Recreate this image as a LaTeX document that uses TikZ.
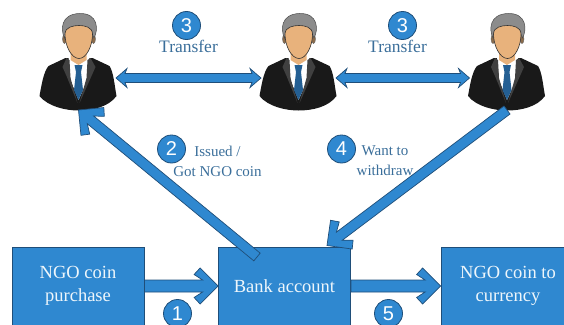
\documentclass[tikz,border=0pt]{standalone}
\usepackage{fontspec}
\setmainfont{Liberation Serif}
\setsansfont{Liberation Sans}
\usetikzlibrary{calc}
\definecolor{ngoblue}{HTML}{2F88D0}
\definecolor{ngoline}{HTML}{1F4E79}
\definecolor{ngotext}{HTML}{3A6E9A}
\definecolor{skin}{HTML}{E8B27C}
\newcommand{\sidept}[4]{($(#1)!#3pt!(#2)!#4pt!90:(#2)$)}
\tikzset{
  ngobox/.style={draw=ngoline,line width=0.8pt,fill=ngoblue,text=white!92!ngoblue,minimum width=132pt,minimum height=78pt,inner sep=0pt,align=center,font=\fontsize{18.5}{23}\selectfont},
  stepnum/.style={circle,draw=ngoline,line width=0.8pt,fill=ngoblue,text=white,minimum size=28pt,inner sep=0pt,font=\sffamily\fontsize{20}{20}\selectfont},
  steptext/.style={text=ngotext,align=center,inner sep=0pt,font=\fontsize{15}{20}\selectfont},
  fatblue/.style={draw=ngoline,line width=0.7pt,fill=ngoblue,line join=miter},
  openarrow/.style={fatblue,to path={
    \sidept{\tikztostart}{\tikztotarget}{0}{#1}
    -- \sidept{\tikztotarget}{\tikztostart}{15.5}{-#1}
    -- \sidept{\tikztotarget}{\tikztostart}{24}{-11.5}
    -- \sidept{\tikztotarget}{\tikztostart}{18}{-18}
    -- (\tikztotarget)
    -- \sidept{\tikztotarget}{\tikztostart}{18}{18}
    -- \sidept{\tikztotarget}{\tikztostart}{24}{11.5}
    -- \sidept{\tikztotarget}{\tikztostart}{15.5}{#1}
    -- \sidept{\tikztostart}{\tikztotarget}{0}{-#1}
    -- cycle}},
  bothway/.style={fatblue,to path={
    (\tikztostart)
    -- \sidept{\tikztostart}{\tikztotarget}{11}{9.5}
    -- \sidept{\tikztostart}{\tikztotarget}{9}{4.5}
    -- \sidept{\tikztotarget}{\tikztostart}{9}{-4.5}
    -- \sidept{\tikztotarget}{\tikztostart}{11}{-9.5}
    -- (\tikztotarget)
    -- \sidept{\tikztotarget}{\tikztostart}{11}{9.5}
    -- \sidept{\tikztotarget}{\tikztostart}{9}{4.5}
    -- \sidept{\tikztostart}{\tikztotarget}{9}{-4.5}
    -- \sidept{\tikztostart}{\tikztotarget}{11}{-9.5}
    -- cycle}},
  person/.pic={
    \coordinate (-left) at (-37.5,78);
    \coordinate (-right) at (37.5,78);
    \coordinate (-foot) at (0,110);
    % body
    \fill[black!90] (-13,58) -- (-30,66) .. controls (-35,72) and (-37,85) .. (-39,96) .. controls (-30,107) and (-12,110.5) .. (0,110.5) .. controls (14,110.5) and (30,107) .. (38,96) .. controls (36,85) and (35,72) .. (31,66) -- (14,58) -- cycle;
    \fill[white] (-10,57) -- (11,57) -- (9,80) -- (0,100) -- (-8,80) -- cycle;
    \fill[black!75] (-12,58) -- (-16,67) -- (-12,76) -- (-1,103) -- (-8,78) -- (-9,60) -- cycle;
    \fill[black!75] (12,58) -- (17,67) -- (13,76) -- (1,103) -- (8,78) -- (9,60) -- cycle;
    \fill[skin] (-8,48) -- (8,48) -- (8,60) -- (0,65) -- (-8,60) -- cycle;
    % tie
    \fill[ngoline!70!ngoblue] (-4,65) -- (4,65) -- (2.5,72) -- (4.5,90) -- (0,100) -- (-4.5,90) -- (-2.5,72) -- cycle;
    % head
    \filldraw[fill=black!40!skin,draw=black!60,line width=0.4pt] (-14,39) ellipse (2 and 4.5);
    \filldraw[fill=black!40!skin,draw=black!60,line width=0.4pt] (15,39) ellipse (2 and 4.5);
    \filldraw[fill=black!45,draw=black!70,line width=0.5pt] (-14,38) .. controls (-18,30) and (-18,14) .. (1,13.5) .. controls (20,13) and (20,30) .. (15.5,38) -- (12,30) -- (-12,30) -- cycle;
    \filldraw[fill=skin,draw=black!80,line width=0.6pt] (-13.5,34) .. controls (-13.5,27) and (-5,25.5) .. (0.5,25.5) .. controls (6,25.5) and (14,27) .. (14,34) .. controls (14,46) and (8,58.5) .. (0.5,58.5) .. controls (-7,58.5) and (-13.5,46) .. (-13.5,34) -- cycle;
  }
}
\begin{document}
\begin{tikzpicture}[x=1pt,y=-1pt]
\useasboundingbox (0,0) rectangle (564,324);
\clip (0,0) rectangle (564,324);
\node[ngobox] (coinbuy) at (78,286) {NGO coin\\purchase};
\node[ngobox] (bank) at (284.5,286) {Bank account};
\node[ngobox,minimum width=134pt] (coinout) at (508,286) {NGO coin to\\currency};
\pic (userone) at (78.5,0) {person};
\pic (usertwo) at (298.5,0) {person};
\pic (userthree) at (507,0) {person};
\coordinate (banktail) at (257,257);
\coordinate (banktip) at (327,245.5);
\draw[openarrow=6] (coinbuy.east) to (bank.west);
\draw[openarrow=6] (bank.east) to (coinout.west);
\draw[openarrow=5] (banktail) to (userone-foot);
\draw[openarrow=5] (userthree-foot) to (banktip);
\draw[bothway] (userone-right) to (usertwo-left);
\draw[bothway] (usertwo-right) to (userthree-left);
\node[stepnum] (numone) at (177.5,313.5) {1};
\node[stepnum] (numtwo) at (171.5,149) {2};
\node[stepnum] (numthreea) at (186.5,25.5) {3};
\node[stepnum] (numthreeb) at (402.5,25.5) {3};
\node[stepnum] (numfour) at (341.5,149) {4};
\node[stepnum] (numfive) at (388.5,313.5) {5};
\node[steptext,font=\fontsize{17.5}{20}\selectfont] (movea) at (188.5,46.5) {Transfer};
\node[steptext,font=\fontsize{17.5}{20}\selectfont] (moveb) at (397.5,46.5) {Transfer};
\node[steptext] (issued) at (217.5,161) {Issued /\\Got NGO coin};
\node[steptext] (withdraw) at (385,160.5) {Want to\\withdraw};
\end{tikzpicture}
\end{document}
